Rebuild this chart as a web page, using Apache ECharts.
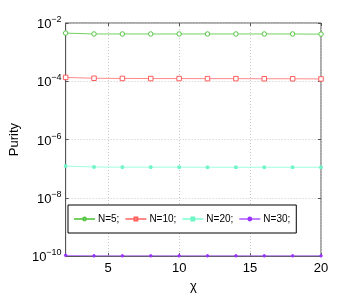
<!DOCTYPE html>
<html><head><meta charset="utf-8">
<script src="https://cdn.jsdelivr.net/npm/echarts@6/dist/echarts.min.js"></script>
<style>html,body{margin:0;padding:0;background:#fff}#c{width:355px;height:298px}</style>
</head><body><div id="c"></div>
<script>
var chi = [2, 4, 6, 8, 10, 12, 14, 16, 18, 20];
var n5  = [4.5e-3, 4.2e-3, 4.2e-3, 4.2e-3, 4.2e-3, 4.2e-3, 4.2e-3, 4.2e-3, 4.2e-3, 4.15e-3];
var n10 = [1.36e-4, 1.27e-4, 1.25e-4, 1.24e-4, 1.24e-4, 1.23e-4, 1.23e-4, 1.22e-4, 1.22e-4, 1.2e-4];
var n20 = [1.23e-7, 1.14e-7, 1.13e-7, 1.13e-7, 1.13e-7, 1.12e-7, 1.12e-7, 1.12e-7, 1.12e-7, 1.12e-7];
var n30 = [1.06e-10, 1.02e-10, 1.02e-10, 1.02e-10, 1.02e-10, 1.02e-10, 1.02e-10, 1.02e-10, 1.02e-10, 1.02e-10];
var names = ['N=5;', 'N=10;', 'N=20;', 'N=30;'];
var xTicks = [5, 10, 15, 20];
var yTicks = [1e-10, 1e-8, 1e-6, 1e-4, 1e-2];

function pairs(v){ return chi.map(function(x,i){return [x, v[i]];}); }
var FONT = '"Liberation Sans", Arial, sans-serif';
var chart = echarts.init(document.getElementById('c'));
var lineColors = ['#74d062', '#ff8a8a', '#9effdb', '#c080ff'];
var markColors = ['#55c544', '#ff5c5c', '#6ff5c5', '#9933ff'];
var symbols = ['circle', 'rect', 'rect', 'circle'];
var sizes = [4.5, 4.5, 2.5, 2.5];
var filled = [false, false, true, true];
var series = [n5, n10, n20, n30].map(function(v, k){
  return {
    name: names[k], type: 'line', data: pairs(v),
    symbol: symbols[k], symbolSize: sizes[k], showSymbol: true,
    lineStyle: {color: lineColors[k], width: 1},
    itemStyle: {color: filled[k] ? markColors[k] : '#fff', borderColor: markColors[k], borderWidth: 1},
    emphasis: {disabled: true}, animation: false
  };
});
var gridLine = {show: true, lineStyle: {color: '#c8c8c8', type: [1, 2], width: 1}};
var tick = {show: true, inside: true, length: 3, lineStyle: {color: '#555'}};
chart.setOption({
  animation: false,
  textStyle: {fontFamily: FONT},
  grid: {left: 47, right: 34, top: 23, bottom: 35, show: true, borderColor: '#555', borderWidth: 1},
  legend: {
    left: 68, top: 205,
    orient: 'horizontal', itemGap: 5, itemWidth: 21, itemHeight: 3.5,
    padding: [9, 6, 9, 5],
    borderColor: '#000', borderWidth: 1, backgroundColor: '#fff', borderRadius: 0,
    textStyle: {fontSize: 10, color: '#000', fontFamily: FONT, padding: [0, 0, 0, -2]},
    data: names
  },
  xAxis: [{
    type: 'value', min: 2, max: 20, position: 'bottom',
    name: 'χ', nameLocation: 'middle', nameGap: 21,
    nameTextStyle: {fontSize: 13, color: '#000', fontFamily: FONT},
    axisLine: {show: true, lineStyle: {color: '#555'}},
    axisTick: Object.assign({customValues: xTicks}, tick),
    axisLabel: {customValues: xTicks, fontSize: 13, color: '#000', margin: 6, fontFamily: FONT},
    splitLine: gridLine
  }, {
    type: 'value', min: 2, max: 20, position: 'top',
    axisLine: {show: false},
    axisTick: Object.assign({customValues: xTicks}, tick),
    axisLabel: {show: false}, splitLine: {show: false}
  }],
  yAxis: [{
    type: 'log', logBase: 10, min: 1e-10, max: 1e-2, position: 'left',
    name: 'Purity', nameLocation: 'middle', nameGap: 30, nameRotate: 90,
    nameTextStyle: {fontSize: 13, color: '#000', fontFamily: FONT},
    axisLine: {show: true, lineStyle: {color: '#555'}},
    axisTick: Object.assign({customValues: yTicks}, tick),
    axisLabel: {
      customValues: yTicks, margin: 4, color: '#000',
      formatter: function(v){ var e = Math.round(Math.log10(v)); return '{b|10}{s|' + (e < 0 ? '−' + (-e) : e) + '}'; },
      rich: {
        b: {fontSize: 13, color: '#000', fontFamily: FONT, verticalAlign: 'bottom', lineHeight: 16},
        s: {fontSize: 9, color: '#000', fontFamily: FONT, verticalAlign: 'top', lineHeight: 16, padding: [0, 0, 8, 0]}
      }
    },
    splitLine: gridLine
  }, {
    type: 'log', logBase: 10, min: 1e-10, max: 1e-2, position: 'right',
    axisLine: {show: false},
    axisTick: Object.assign({customValues: yTicks}, tick),
    axisLabel: {show: false}, splitLine: {show: false}
  }],
  series: series
});
</script></body></html>
